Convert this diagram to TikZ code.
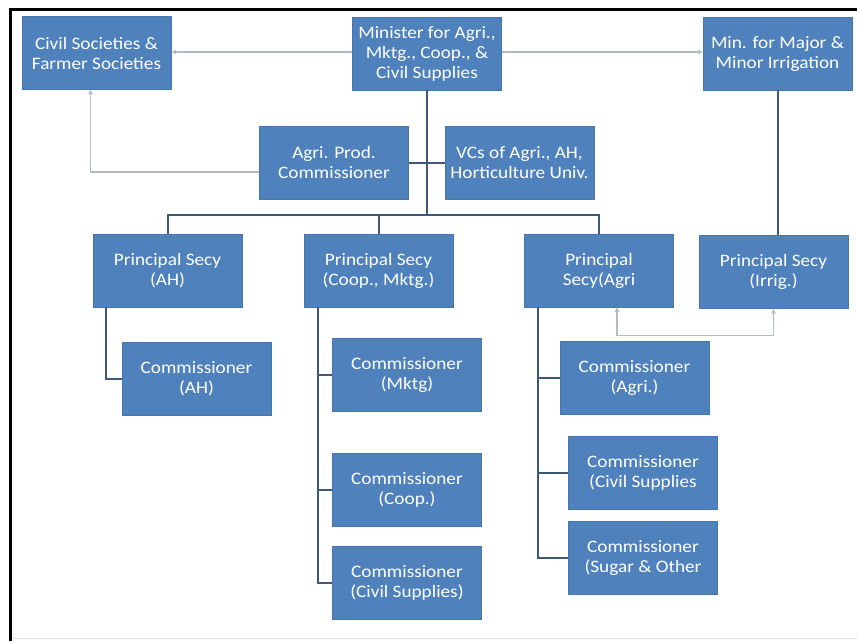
\documentclass[tikz,border=0pt]{standalone}
\usepackage{fontspec}
\setmainfont{Carlito}[FakeStretch=1.1]
\usetikzlibrary{arrows.meta}

\definecolor{boxblue}{HTML}{4F81BD}
\definecolor{boxedge}{HTML}{4775AD}
\definecolor{linkblue}{HTML}{3E5878}
\definecolor{arrowgrey}{HTML}{AEBBCA}

\tikzstyle{box}=[draw=boxedge,fill=boxblue,text=white,line width=0.8pt,
  minimum width=149pt,minimum height=73pt,inner sep=2pt,align=center,
  font=\fontsize{17.5}{20}\selectfont]
\tikzstyle{link}=[linkblue,line width=2pt]
\tikzstyle{side}=[arrowgrey,line width=1.6pt]

\begin{document}
\begin{tikzpicture}[x=1pt,y=-1pt]
    \useasboundingbox (0,0) rectangle (857,641);
    \fill[white] (0,0) rectangle (857,641);
    \draw[line width=3pt] (10,641) -- (10,9.5) -- (857,9.5);
    \draw[gray!25,line width=1pt] (12,638) -- (857,638);

    \node (civ)[box] at (96.5,53) {Civil Societies \&\\Farmer Societies};
    \node (min)[box] at (427,53.5) {Minister for Agri.,\\Mktg., Coop., \&\\Civil Supplies};
    \node (irr)[box] at (777.5,53.5) {Min. for Major \&\\Minor Irrigation};

    \node (apc)[box] at (334,162.5) {Agri. Prod.\\Commissioner};
    \node (vcs)[box] at (519.5,162.5) {VCs of Agri., AH,\\Horticulture Univ.};

    \node (psah)[box] at (167.5,270.5) {Principal Secy\\(AH)};
    \node (psco)[box] at (378.5,270.5) {Principal Secy\\(Coop., Mktg.)};
    \node (psag)[box] at (599,270.5) {Principal\\Secy(Agri};
    \node (psir)[box] at (773.5,272) {Principal Secy\\(Irrig.)};

    \node (cah)[box] at (196.5,378.5) {Commissioner\\(AH)};

    \node (cmk)[box] at (407,374.5) {Commissioner\\(Mktg)};
    \node (cco)[box] at (407,490) {Commissioner\\(Coop.)};
    \node (ccs)[box] at (407,582.5) {Commissioner\\(Civil Supplies)};

    \node (cag)[box] at (634.5,378) {Commissioner\\(Agri.)};
    \node (ccv)[box] at (643,472.5) {Commissioner\\(Civil Supplies};
    \node (csu)[box] at (643,557.5) {Commissioner\\(Sugar \& Other};

    \coordinate (bus) at (427,215);
    \coordinate (cosp) at ([xshift=14pt]psco.south west);
    \coordinate (agsp) at ([xshift=14pt]psag.south west);

    \draw[link] (min.south) -- (bus);
    \draw[link] (apc.east) -- (apc.east -| bus);
    \draw[link] (vcs.west) -- (vcs.west -| bus);
    \draw[link] (bus) -| (psah.north);
    \draw[link] (bus) -| (psco.north);
    \draw[link] (bus) -| (psag.north);
    \draw[link] (irr.south) -- (irr.south |- psir.north);

    \draw[link] ([xshift=13pt]psah.south west) |- (cah.west);

    \draw[link] (cosp) |- (ccs.west);
    \draw[link] (cmk.west) -- (cmk.west -| cosp);
    \draw[link] (cco.west) -- (cco.west -| cosp);

    \draw[link] (agsp) |- (csu.west);
    \draw[link] (cag.west) -- (cag.west -| agsp);
    \draw[link] (ccv.west) -- (ccv.west -| agsp);

    \draw[side,-{Stealth[length=5pt,width=5pt]}] ([yshift=1.5pt]min.west) -- ([yshift=1.5pt]min.west -| civ.east);
    \draw[side,-{Stealth[length=5pt,width=5pt]}] ([yshift=1.5pt]min.east) -- ([yshift=1.5pt]min.east -| irr.west);
    \draw[side,-{Stealth[length=5pt,width=5pt]}] ([yshift=-9.5pt]apc.west) -| ([xshift=-6pt]civ.south);
    \draw[side,{Stealth[length=5pt,width=5pt]}-{Stealth[length=5pt,width=5pt]}] ([xshift=18pt]psag.south) -- ++(0,28) -| (psir.south);
\end{tikzpicture}
\end{document}
